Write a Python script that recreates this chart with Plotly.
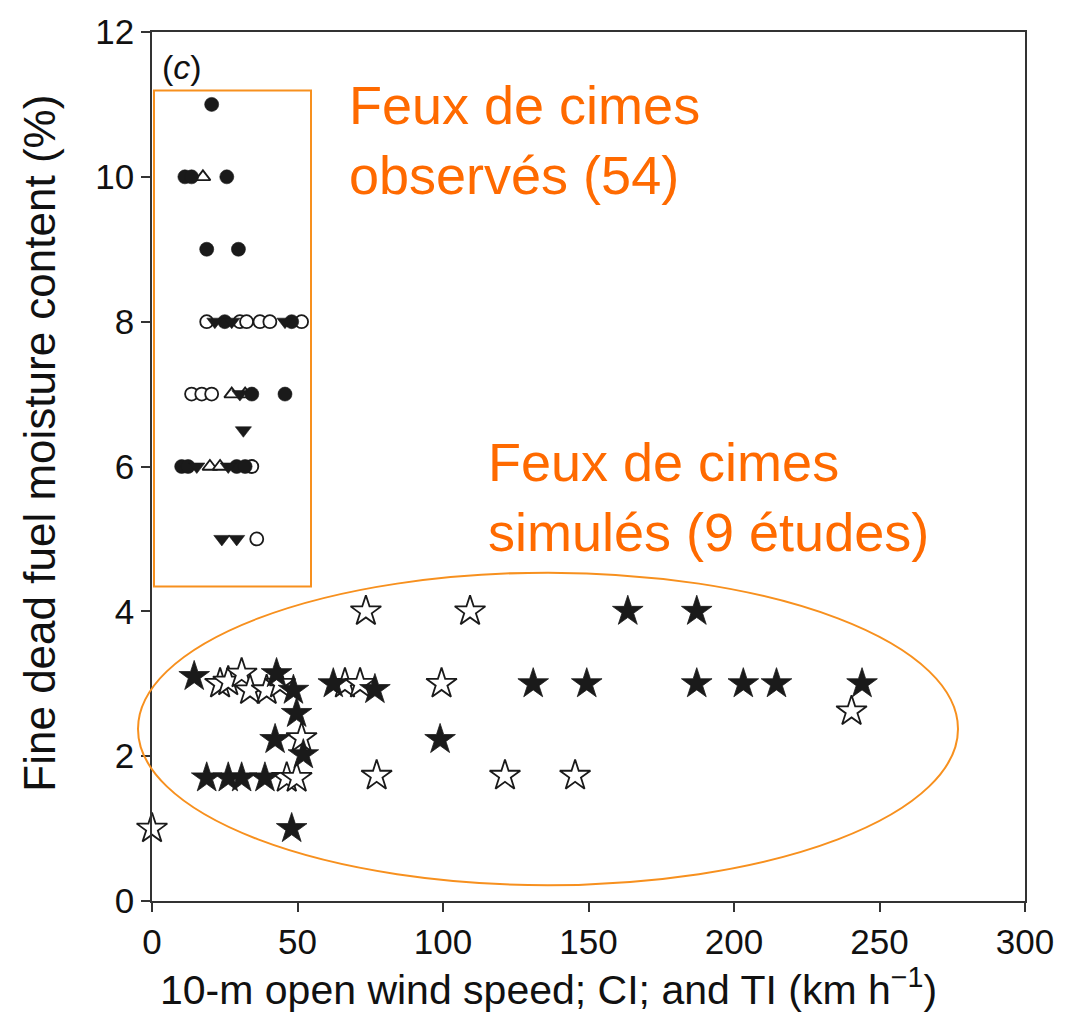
import plotly.graph_objects as go

# ---------------- data ----------------
# Observed crown fires
obs_fcirc_x = [20.5, 11.3, 13.6, 25.7, 18.8, 29.7, 25.0, 48.0, 34.3, 45.7, 10.2, 12.4, 29.1, 32.0]
obs_fcirc_y = [11, 10, 10, 10, 9, 9, 8, 8, 7, 7, 6, 6, 6, 6]
obs_ocirc_x = [18.8, 30.2, 32.5, 37.1, 40.5, 51.4, 13.6, 17.1, 20.5, 36.0, 34.3]
obs_ocirc_y = [8, 8, 8, 8, 8, 8, 7, 7, 7, 5, 6]
obs_ftri_x = [21.6, 27.4, 45.7, 30.2, 31.4, 15.4, 26.2, 24.0, 29.1]
obs_ftri_y = [8, 8, 8, 7, 6.5, 6, 6, 5, 5]
obs_otri_x = [17.5, 27.4, 32.0, 19.9, 23.4]
obs_otri_y = [10, 7, 7, 6, 6]

# Simulated crown fires
sim_fstar_x = [14.5, 42.8, 48.6, 49.7, 42.3, 52.0, 18.8, 26.2, 30.8, 38.8, 48.0, 62.3, 76.6,
               99.0, 131.0, 149.4, 163.5, 187.2, 187.2, 203.2, 214.6, 244.0]
sim_fstar_y = [3.1, 3.14, 2.91, 2.59, 2.23, 2.02, 1.7, 1.7, 1.7, 1.7, 1.0, 3.0, 2.92,
               2.23, 3.0, 3.0, 4.0, 4.0, 3.0, 3.0, 3.0, 3.0]
sim_ostar_x = [0.0, 23.4, 26.2, 30.8, 33.7, 39.4, 44.0, 51.4, 46.3, 49.7, 66.3, 71.5, 73.5,
               109.3, 99.5, 77.2, 121.3, 145.4, 240.4]
sim_ostar_y = [1.0, 3.0, 3.03, 3.14, 2.91, 2.91, 3.0, 2.25, 1.7, 1.7, 3.0, 3.0, 4.0,
               4.0, 3.0, 1.73, 1.73, 1.73, 2.62]

x_ticks = [0, 50, 100, 150, 200, 250, 300]
y_ticks = [0, 2, 4, 6, 8, 10, 12]

x_title = "10-m open wind speed; CI; and TI (km h<sup>\u22121</sup>)"
y_title = "Fine dead fuel moisture content (%)"

BLACK = "#1a1a1a"
ORANGE_TXT = "#FF6A00"
ORANGE_LN = "#F7901E"
FONT = "Liberation Sans, Arial"

fig = go.Figure()

def add(x, y, symbol, size, filled, lw=1.6):
    fig.add_trace(go.Scatter(
        x=x, y=y, mode="markers", cliponaxis=False, showlegend=False,
        marker=dict(symbol=symbol, size=size,
                    color=BLACK if filled else "white",
                    line=dict(color=BLACK, width=lw))))

add(sim_ostar_x, sim_ostar_y, "star", 23, False, 1.8)
add(sim_fstar_x, sim_fstar_y, "star", 23, True, 0.8)
add(obs_ocirc_x, obs_ocirc_y, "circle", 13, False, 1.8)
add(obs_otri_x, obs_otri_y, "triangle-up", 13, False, 1.8)
add(obs_fcirc_x, obs_fcirc_y, "circle", 14, True, 0.6)
add(obs_ftri_x, obs_ftri_y, "triangle-down", 14, True, 0.6)

axis_common = dict(showline=True, linecolor="#333", linewidth=1.5, mirror=True,
                   ticks="outside", ticklen=9, tickwidth=1.5, tickcolor="#333",
                   showgrid=False, zeroline=False,
                   tickfont=dict(family=FONT, size=35, color="#111"))

fig.update_layout(
    width=1073, height=1018,
    margin=dict(l=152, r=48, t=25, b=117),
    paper_bgcolor="white", plot_bgcolor="white",
    xaxis=dict(range=[0, 300], tickvals=x_ticks, ticktext=[str(v) for v in x_ticks],
               **axis_common),
    yaxis=dict(range=[0, 12], tickvals=y_ticks, ticktext=[str(v) for v in y_ticks],
               **axis_common),
)

# axis titles (placed as annotations to match the reference offsets)
fig.add_annotation(xref="paper", yref="paper", x=(548-152)/873, y=(901-1016)/876,
                   xanchor="center", yanchor="bottom", showarrow=False,
                   text=x_title, font=dict(family=FONT, size=41, color="#111"))
fig.add_annotation(xref="paper", yref="paper", x=(40-152)/873, y=(901-440)/876,
                   xanchor="center", yanchor="middle", showarrow=False, textangle=-90,
                   text=y_title, font=dict(family=FONT, size=44, color="#111"))

# orange rectangle around observed fires
fig.add_shape(type="rect", xref="paper", yref="paper",
              x0=2/873, x1=159/873, y0=(901-584)/876, y1=(901-84)/876,
              line=dict(color=ORANGE_LN, width=2), layer="above")
# orange ellipse around simulated fires
fig.add_shape(type="circle", xref="paper", yref="paper",
              x0=-14/873, x1=806/873, y0=(901-885)/876, y1=(901-570)/876,
              line=dict(color=ORANGE_LN, width=2), layer="above")

fig.add_annotation(xref="paper", yref="paper", x=(347-152)/873, y=(901-134)/876,
                   xanchor="left", yanchor="middle", showarrow=False, align="left",
                   text="Feux de cimes<br>observés (54)",
                   font=dict(family=FONT, size=54, color=ORANGE_TXT))
fig.add_annotation(xref="paper", yref="paper", x=(486-152)/873, y=(901-494)/876,
                   xanchor="left", yanchor="middle", showarrow=False, align="left",
                   text="Feux de cimes<br>simulés (9 études)",
                   font=dict(family=FONT, size=54, color=ORANGE_TXT))
fig.add_annotation(xref="paper", yref="paper", x=(160-152)/873, y=(901-60)/876,
                   xanchor="left", yanchor="middle", showarrow=False,
                   text="(<i>c</i>)",
                   font=dict(family=FONT, size=34, color="#111"))

fig.write_html("out.html")
